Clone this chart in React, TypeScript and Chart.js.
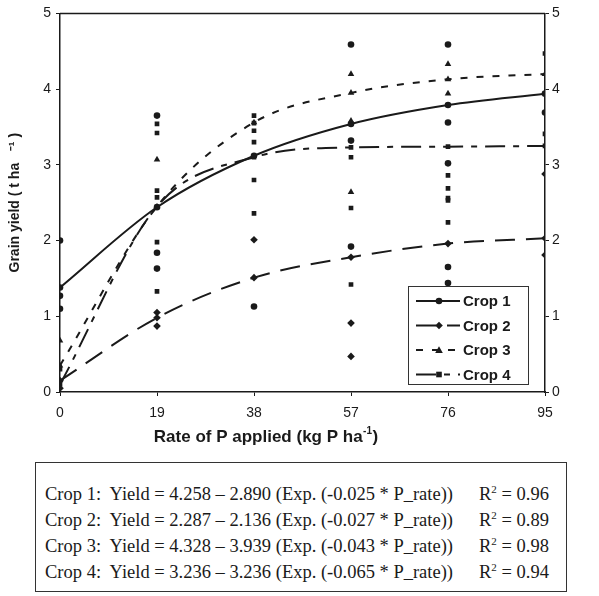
import React, { useEffect, useRef } from "react";
import { Chart, registerables } from "chart.js";
Chart.register(...registerables);

// ---------- data ----------
const rates = [0, 19, 38, 57, 76, 95];
const xTicks = [0, 19, 38, 57, 76, 95];
const yTicks = [0, 1, 2, 3, 4, 5];
const cropNames = ["Crop 1", "Crop 2", "Crop 3", "Crop 4"];

// fitted curve values
const crop1Fit = [1.38, 2.44, 3.12, 3.54, 3.79, 3.94];
const crop2Fit = [0.15, 0.98, 1.51, 1.78, 1.96, 2.03];
const crop3Fit = [0.35, 2.45, 3.56, 3.95, 4.13, 4.2];
const crop4Fit = [0.1, 2.45, 3.1, 3.23, 3.24, 3.25];

// observed points
const crop1ObsRate = [0, 0, 0, 19, 19, 19, 38, 57, 57, 57, 76, 76, 76, 76, 76, 95];
const crop1ObsYield = [2.0, 1.27, 1.1, 3.65, 1.84, 1.63, 1.13, 4.59, 1.92, 3.32, 4.59, 3.56, 3.02, 1.65, 1.44, 3.69];
const crop2ObsRate = [0, 19, 19, 38, 57, 57, 95, 95];
const crop2ObsYield = [0.05, 1.05, 0.87, 2.01, 0.91, 0.47, 2.88, 1.81];
const crop3ObsRate = [0, 19, 57, 57, 57, 76, 76];
const crop3ObsYield = [0.68, 3.07, 4.2, 2.64, 3.58, 4.33, 3.94];
const crop4ObsRate = [0, 19, 19, 19, 19, 19, 19, 38, 38, 38, 38, 38, 38, 57, 57, 57, 76, 76, 76, 76, 76, 95, 95];
const crop4ObsYield = [0.3, 3.54, 3.42, 2.66, 2.57, 1.98, 1.33, 3.65, 3.55, 3.45, 3.3, 2.8, 2.36, 2.43, 1.42, 3.1, 2.86, 2.69, 2.56, 2.53, 2.24, 4.47, 3.41];

// equations
const eqA = ["4.258", "2.287", "4.328", "3.236"];
const eqB = ["2.890", "2.136", "3.939", "3.236"];
const eqK = ["-0.025", "-0.027", "-0.043", "-0.065"];
const eqR2 = ["0.96", "0.89", "0.98", "0.94"];

const fits = [crop1Fit, crop2Fit, crop3Fit, crop4Fit];
const obsRates = [crop1ObsRate, crop2ObsRate, crop3ObsRate, crop4ObsRate];
const obsYields = [crop1ObsYield, crop2ObsYield, crop3ObsYield, crop4ObsYield];

// ---------- styles ----------
const INK = "#1a1a1a";
const SANS = "'Liberation Sans', Arial, sans-serif";
const markers = ["circle", "rectRot", "triangle", "rect"];
const dashes = [[], [20, 11], [7, 9], [20, 8, 6, 8]];
const radii = [3.3, 3.8, 3.8, 3.3];

function drawMarker(ctx, style, x, y, r) {
  ctx.beginPath();
  if (style === "circle") {
    ctx.arc(x, y, r, 0, Math.PI * 2);
  } else if (style === "rectRot") {
    ctx.moveTo(x, y - r); ctx.lineTo(x + r, y); ctx.lineTo(x, y + r); ctx.lineTo(x - r, y); ctx.closePath();
  } else if (style === "triangle") {
    ctx.moveTo(x, y - r); ctx.lineTo(x + r, y + r * 0.8); ctx.lineTo(x - r, y + r * 0.8); ctx.closePath();
  } else {
    ctx.rect(x - r * 0.85, y - r * 0.85, r * 1.7, r * 1.7);
  }
  ctx.fill();
}

const framePlugin = {
  id: "frameLegend",
  afterDatasetsDraw(chart) {
    const { ctx, chartArea } = chart;
    ctx.save();
    ctx.strokeStyle = INK;
    ctx.lineWidth = 1.5;
    ctx.beginPath();
    ctx.moveTo(chartArea.left, chartArea.top);
    ctx.lineTo(chartArea.right, chartArea.top);
    ctx.stroke();

    // legend box
    const bw = 120, bh = 98;
    const bx = chartArea.right - 137;
    const by = chartArea.bottom - 8 - bh;
    ctx.fillStyle = "#fff";
    ctx.fillRect(bx, by, bw, bh);
    ctx.lineWidth = 1;
    ctx.strokeStyle = "#333";
    ctx.strokeRect(bx + 0.5, by + 0.5, bw, bh);

    cropNames.forEach((name, i) => {
      const y = by + 15 + i * 24.5;
      ctx.strokeStyle = INK;
      ctx.lineWidth = 2;
      ctx.setLineDash(dashes[i]);
      ctx.beginPath();
      ctx.moveTo(bx + 8, y);
      ctx.lineTo(bx + 52, y);
      ctx.stroke();
      ctx.setLineDash([]);
      ctx.fillStyle = INK;
      drawMarker(ctx, markers[i], bx + 31, y, radii[i]);
      ctx.font = "bold 15px " + SANS;
      ctx.textAlign = "left";
      ctx.textBaseline = "middle";
      ctx.fillText(name, bx + 55, y + 1);
    });

    // x-axis title
    const main = "Rate of P applied (kg P ha";
    const sup = "-1";
    const close = ")";
    ctx.fillStyle = INK;
    ctx.textBaseline = "middle";
    ctx.textAlign = "left";
    ctx.font = "bold 17px " + SANS;
    const w1 = ctx.measureText(main).width;
    const w3 = ctx.measureText(close).width;
    ctx.font = "bold 10px " + SANS;
    const w2 = ctx.measureText(sup).width;
    const total = w1 + w2 + w3 + 1;
    const tx = 266 - total / 2;
    const ty = 437;
    ctx.font = "bold 17px " + SANS;
    ctx.fillText(main, tx, ty);
    ctx.font = "bold 10px " + SANS;
    ctx.fillText(sup, tx + w1 + 0.5, ty - 6);
    ctx.font = "bold 17px " + SANS;
    ctx.fillText(close, tx + w1 + w2 + 1, ty);
    ctx.restore();
  },
};

const CANVAS_W = 599;
const CANVAS_H = 455;

export default function App() {
  const ref = useRef(null);
  useEffect(() => {
    document.body.style.margin = "0";
    const lineSets = cropNames.map((name, i) => ({
      type: "line",
      label: name,
      data: rates.map((r, j) => ({ x: r, y: fits[i][j] })),
      borderColor: INK,
      backgroundColor: INK,
      borderWidth: 2,
      borderDash: dashes[i],
      pointStyle: markers[i],
      pointRadius: radii[i],
      pointBackgroundColor: INK,
      pointBorderColor: INK,
      pointBorderWidth: 0,
      cubicInterpolationMode: "monotone",
      fill: false,
    }));
    const obsSets = cropNames.map((name, i) => ({
      type: "scatter",
      label: name + " obs",
      data: obsRates[i].map((r, j) => ({ x: r, y: obsYields[i][j] })),
      showLine: false,
      pointStyle: markers[i],
      pointRadius: radii[i],
      pointBackgroundColor: INK,
      pointBorderColor: INK,
      pointBorderWidth: 0,
    }));
    const axisFont = { family: SANS, size: 14 };
    const chart = new Chart(ref.current, {
      type: "line",
      data: { datasets: [...obsSets, ...lineSets] },
      options: {
        animation: false,
        responsive: false,
        layout: { padding: { top: 8, left: 0, right: 0, bottom: 0 } },
        plugins: { legend: { display: false }, tooltip: { enabled: false } },
        scales: {
          x: {
            type: "linear",
            position: "bottom",
            min: 0,
            max: 95,
            afterBuildTicks: (s) => { s.ticks = xTicks.map((v) => ({ value: v })); },
            afterFit: (s) => { s.height = CANVAS_H - 392; },
            ticks: { color: INK, font: axisFont, padding: 9, maxRotation: 0 },
            grid: { drawOnChartArea: false, drawTicks: true, tickLength: 4, color: INK },
            border: { display: true, color: INK, width: 1.5 },
          },
          y: {
            type: "linear",
            position: "left",
            min: 0,
            max: 5,
            afterBuildTicks: (s) => { s.ticks = yTicks.map((v) => ({ value: v })); },
            afterFit: (s) => { s.width = 60; },
            ticks: { color: INK, font: axisFont, padding: 5 },
            grid: { drawOnChartArea: false, drawTicks: true, tickLength: 4, color: INK },
            border: { display: true, color: INK, width: 1.5 },
            title: {
              display: true,
              text: "Grain yield ( t ha   ⁻¹ )",
              color: INK,
              font: { family: SANS, size: 14, weight: "bold" },
              padding: { top: 7, bottom: 0 },
            },
          },
          y2: {
            type: "linear",
            position: "right",
            min: 0,
            max: 5,
            afterBuildTicks: (s) => { s.ticks = yTicks.map((v) => ({ value: v })); },
            afterFit: (s) => { s.width = CANVAS_W - 545; },
            ticks: { color: INK, font: axisFont, padding: 3 },
            grid: { drawOnChartArea: false, drawTicks: true, tickLength: 4, color: INK },
            border: { display: true, color: INK, width: 1.5 },
          },
        },
      },
      plugins: [framePlugin],
    });
    return () => chart.destroy();
  }, []);

  const serif = "'Liberation Serif', 'Times New Roman', serif";
  return (
    <div style={{ position: "relative", width: 599, height: 596, background: "#fff" }}>
      <canvas ref={ref} width={CANVAS_W} height={CANVAS_H} style={{ position: "absolute", left: 0, top: 0 }} />
      <div
        style={{
          position: "absolute",
          left: 35,
          top: 462,
          width: 530,
          height: 128,
          border: "1px solid #333",
          fontFamily: serif,
          fontSize: 18.5,
          color: INK,
        }}
      >
        {cropNames.map((name, i) => (
          <div key={name} style={{ position: "absolute", left: 9, top: 21 + i * 26, whiteSpace: "nowrap", lineHeight: "20px" }}>
            {name}:&nbsp; Yield = {eqA[i]} – {eqB[i]} (Exp. ({eqK[i]} * P_rate))
          </div>
        ))}
        {cropNames.map((name, i) => (
          <div key={name + "r"} style={{ position: "absolute", left: 443, top: 21 + i * 26, whiteSpace: "nowrap", lineHeight: "20px" }}>
            R<sup style={{ fontSize: 11, lineHeight: 0, verticalAlign: "7px" }}>2</sup> = {eqR2[i]}
          </div>
        ))}
      </div>
    </div>
  );
}
